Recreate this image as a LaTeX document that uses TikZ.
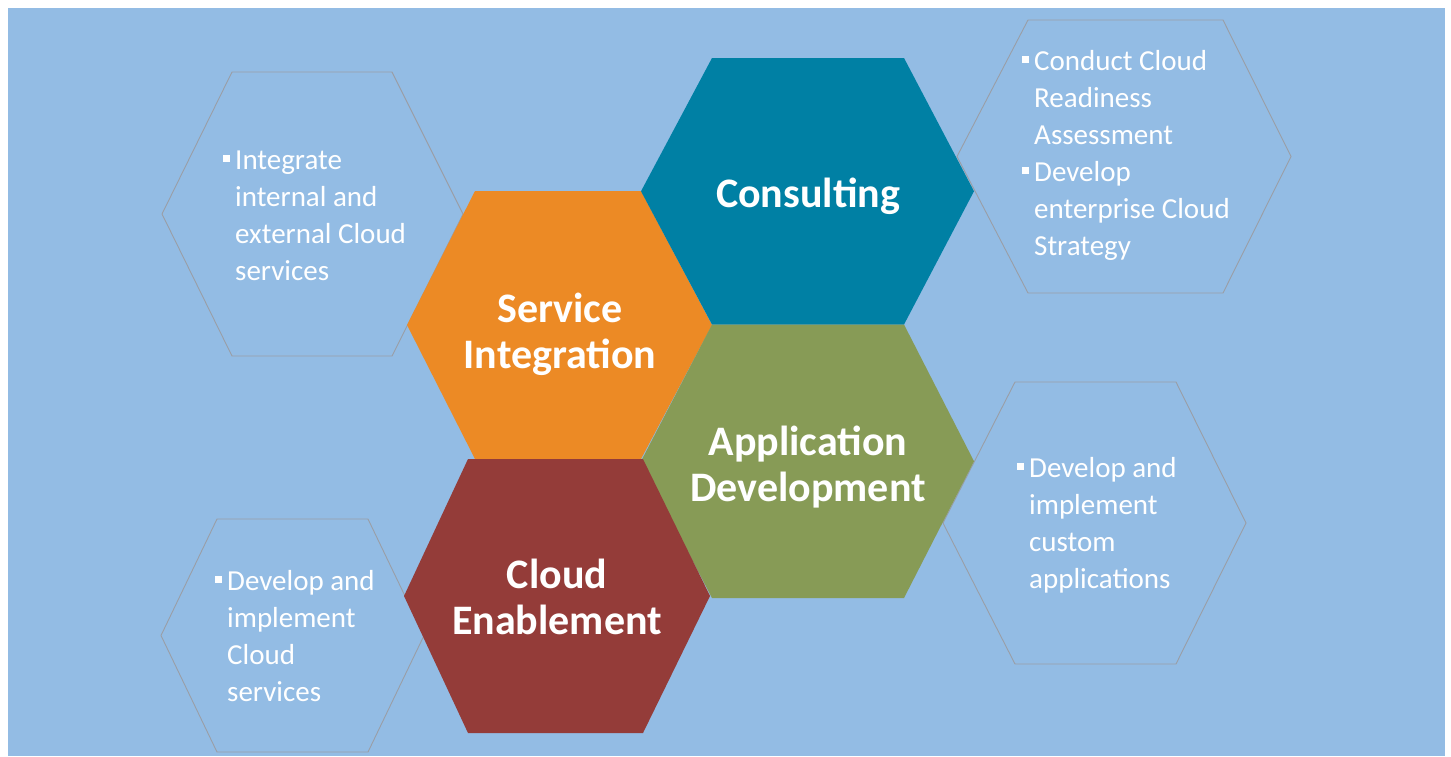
\documentclass[tikz,border=0pt]{standalone}
\usepackage{fontspec}
\setmainfont{Carlito}
\definecolor{bgblue}{HTML}{93BCE4}
\definecolor{hexline}{HTML}{9A9EA6}
\definecolor{orangehex}{HTML}{EC8A25}
\definecolor{tealhex}{HTML}{0080A4}
\definecolor{greenhex}{HTML}{879B56}
\definecolor{redhex}{HTML}{943C39}
\newcommand\hexshape[7]{\path[#1] (#2,{(#6+#7)/2}) -- (#3,#6) -- (#4,#6) -- (#5,{(#6+#7)/2}) -- (#4,#7) -- (#3,#7) -- cycle;}
\newcommand\bsq{\llap{\rule[7pt]{7.5pt}{7.5pt}\hspace{5pt}}}
\tikzset{
  outlinehex/.style={draw=hexline, line width=0.9pt},
  bigtext/.style={text=white, font=\fontsize{42}{46}\selectfont\bfseries, align=center, inner sep=0pt},
  smalltext/.style={text=white, font=\fontsize{29}{37}\selectfont, align=left, inner sep=0pt},
}
\begin{document}
\begin{tikzpicture}[x=1pt,y=-1pt]
\useasboundingbox (0,0) rectangle (1451,756);
\fill[white] (0,0) rectangle (1451,756);
\fill[bgblue] (8,8) rectangle (1445,756);
% outline hexagons
\hexshape{outlinehex}{162}{232}{392}{463}{72}{356}
\hexshape{outlinehex}{957}{1028}{1223}{1291}{20}{293}
\hexshape{outlinehex}{161}{217}{368}{424}{519}{752}
\hexshape{outlinehex}{943}{1015}{1176}{1246}{382}{664}
% coloured hexagons
\hexshape{fill=orangehex}{407}{475}{641}{712}{191}{459}
\hexshape{fill=tealhex}{641}{712}{904}{974}{58}{324.5}
\hexshape{fill=greenhex}{641}{712}{904}{974}{324.5}{598}
\hexshape{fill=redhex}{404}{468}{643}{710}{459}{733}
% titles (anchor = baseline of the last line)
\node[bigtext, anchor=base] (consulting) at (808,207) {Consulting};
\node[bigtext, anchor=base] (service) at (560,368) {Service\\Integration};
\node[bigtext, anchor=base] (appdev) at (808,501) {Application\\Development};
\node[bigtext, anchor=base] (cloud) at (557,634) {Cloud\\Enablement};
% bullet texts (anchor = baseline of the last line)
\node[smalltext, anchor=base west] (integrate) at (235,280) {\bsq Integrate\\internal and\\external Cloud\\services};
\node[smalltext, anchor=base west] (conduct) at (1034,255) {\bsq Conduct Cloud\\Readiness\\Assessment\\\bsq Develop\\enterprise Cloud\\Strategy};
\node[smalltext, anchor=base west] (cloudsvc) at (227,701) {\bsq Develop and\\implement\\Cloud\\services};
\node[smalltext, anchor=base west] (custom) at (1029,588) {\bsq Develop and\\implement\\custom\\applications};
\end{tikzpicture}
\end{document}
